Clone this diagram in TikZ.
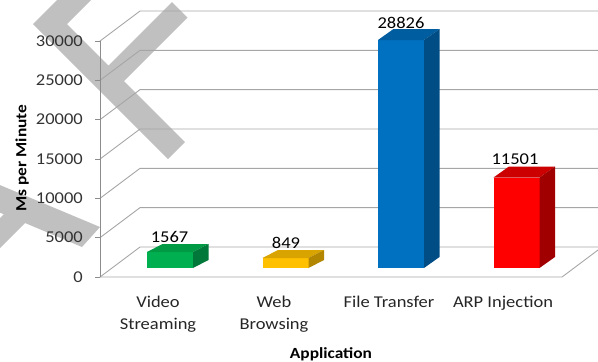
\documentclass[tikz,border=0pt]{standalone}
\usepackage{fontspec}
\setmainfont{Carlito}[FakeStretch=1.12]
\definecolor{gridc}{HTML}{A6A6A6}
\definecolor{axisc}{HTML}{8C8C8C}
\definecolor{wmark}{HTML}{C0C0C0}
\definecolor{gfront}{HTML}{00B050}
\definecolor{gtop}{HTML}{009A44}
\definecolor{gside}{HTML}{00783A}
\definecolor{ofront}{HTML}{FFC000}
\definecolor{otop}{HTML}{D9A300}
\definecolor{oside}{HTML}{B38600}
\definecolor{bfront}{HTML}{0070C0}
\definecolor{btop}{HTML}{005DA0}
\definecolor{bside}{HTML}{004C85}
\definecolor{rfront}{HTML}{FF0000}
\definecolor{rtop}{HTML}{CC0000}
\definecolor{rside}{HTML}{A00000}
\tikzset{
  gridline/.style={draw=gridc, line width=0.9pt},
  axisline/.style={draw=axisc, line width=0.9pt},
  ticklab/.style={anchor=east, font=\fontsize{16.5}{19}\selectfont, text=black!80, inner sep=0pt},
  vallab/.style={font=\fontsize{16.5}{19}\selectfont, inner sep=0pt, text=black},
  catlab/.style={anchor=base, font=\fontsize{16.5}{19}\selectfont, inner sep=0pt, text=black!85},
  titlelab/.style={anchor=base, font=\bfseries\fontsize{15.5}{19}\selectfont, inner sep=0pt, text=black},
}
% 3D column: #1 left x of front face, #2 top y of front face,
% #3 depth rise of the top face, #4/#5/#6 front/top/side colours
\newcommand\drawcolumn[6]{%
  \fill[#4] (#1,268) rectangle (#1+46,#2);
  \fill[#5] (#1,#2) -- (#1+15.5,#2-#3) -- (#1+61.5,#2-#3) -- (#1+46,#2) -- cycle;
  \fill[#6] (#1+46,268) -- (#1+46,#2) -- (#1+61.5,#2-#3) -- (#1+61.5,268-#3) -- cycle;
}
\begin{document}
\begin{tikzpicture}[x=1pt,y=-1pt]
\useasboundingbox (0,0) rectangle (598,362);
\clip (0,0) rectangle (598,362);

% grey watermark strokes
\fill[wmark] (33,24) -- (62,-5) -- (96,-5) -- (67,24) -- (108.5,65.5) -- (172,2)
  -- (187.5,17.5) -- (124,81) -- (185,142) -- (168,159) -- cycle;
\fill[wmark] (-5,183) -- (100,227) -- (82,247) -- (25,223) -- (-5,253) -- (-5,223)
  -- (3.8,214.2) -- (-5,210.6) -- cycle;

% back wall gridlines, floor and value axis
\foreach \k/\v in {0/0,1/5000,2/10000,3/15000,4/20000,5/25000,6/30000}{
  \pgfmathsetmacro\yf{277-39.33*\k}
  \draw[gridline] (100,\yf) -- (140,\yf-30) -- (600,\yf-30);
  \draw[axisline] (95,\yf) -- (100,\yf);
  \node[ticklab] (tick\k) at (83,\yf) {\v};
}
\draw[gridline] (100,277) -- (562,277) -- (602,247);
\draw[axisline] (100,277) -- (100,41);

% columns
\drawcolumn{147}{252}{8}{gfront}{gtop}{gside}
\drawcolumn{262.5}{258}{8}{ofront}{otop}{oside}
\drawcolumn{378}{40}{11}{bfront}{btop}{bside}
\drawcolumn{493.5}{177.5}{11}{rfront}{rtop}{rside}

% data labels
\node[vallab] (val1) at (169.5,237) {1567};
\node[vallab] (val2) at (286,243) {849};
\node[vallab] (val3) at (401,22.5) {28826};
\node[vallab] (val4) at (515,159) {11501};

% category labels
\node[catlab] (cat1a) at (158,307) {Video};
\node[catlab] (cat1b) at (158,329) {Streaming};
\node[catlab] (cat2a) at (274,307) {Web};
\node[catlab] (cat2b) at (274,329) {Browsing};
\node[catlab] (cat3) at (389,307) {File Transfer};
\node[catlab] (cat4) at (503,307) {ARP Injection};

% axis titles
\node[titlelab] (xtitle) at (331,358) {Application};
\node[titlelab, rotate=90] (ytitle) at (26.5,158) {Ms per Minute};
\end{tikzpicture}
\end{document}
